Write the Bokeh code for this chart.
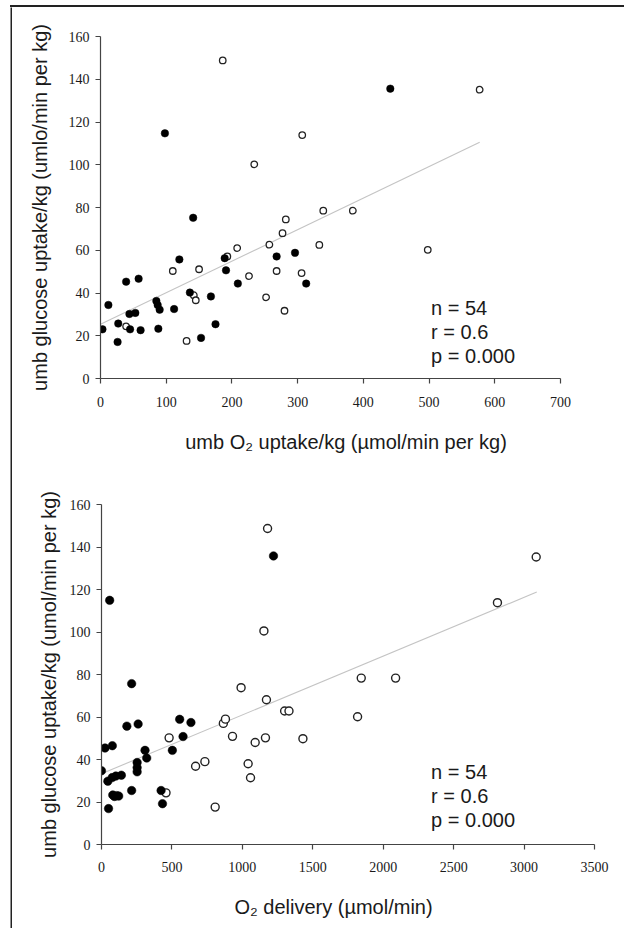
from bokeh.plotting import figure
from bokeh.models import Range1d, SingleIntervalTicker, Label, ColumnDataSource, Div
from bokeh.layouts import column, row
from bokeh.embed import file_html
from bokeh.resources import INLINE

# ---------------- data: top panel (umb O2 uptake vs glucose uptake) ----------------
top_filled_x = [3, 12, 26, 27, 39, 44, 45, 53, 58, 61, 85, 87, 88, 90, 98, 112, 120, 136, 141, 153,
                168, 175, 189, 191, 209, 268, 296, 313, 441]
top_filled_y = [23.0, 34.4, 17.1, 25.7, 45.3, 30.2, 23.0, 30.7, 46.7, 22.6, 36.3, 34.4, 23.3, 32.2,
                114.7, 32.5, 55.7, 40.2, 75.2, 19.0, 38.4, 25.4, 56.3, 50.6, 44.4, 57.1, 58.8, 44.4, 135.6]
top_open_x = [39, 110, 131, 142, 145, 150, 186, 193, 208, 226, 234, 252, 257, 268, 277, 280, 282,
              306, 307, 333, 339, 384, 498, 577]
top_open_y = [24.4, 50.3, 17.6, 39.0, 36.6, 51.1, 148.8, 57.1, 61.0, 47.9, 100.2, 38.0, 62.6, 50.3,
              68.0, 31.7, 74.4, 49.3, 113.9, 62.5, 78.5, 78.5, 60.2, 135.1]
top_fit_x = [0, 577]
top_fit_y = [25.4, 110.5]
top_x_ticks = [0, 100, 200, 300, 400, 500, 600, 700]
top_y_ticks = [0, 20, 40, 60, 80, 100, 120, 140, 160]
top_stats = ["n = 54", "r = 0.6", "p = 0.000"]
top_xlabel = "umb O\u2082 uptake/kg (\u00b5mol/min per kg)"
top_ylabel = "umb glucose uptake/kg (umlo/min per kg)"

# ---------------- data: bottom panel (O2 delivery vs glucose uptake) ----------------
bot_filled_x = [0, 25, 77, 58, 45, 76, 102, 141, 80, 92, 108, 122, 50, 180, 214, 260, 214, 253, 253, 253,
                309, 321, 423, 433, 503, 555, 579, 635, 1221]
bot_filled_y = [34.7, 45.4, 46.5, 114.9, 29.8, 31.5, 32.2, 32.6, 23.3, 22.6, 23.0, 22.8, 16.9, 55.7,
                75.7, 56.7, 25.4, 38.6, 36.2, 34.2, 44.3, 40.7, 25.4, 19.2, 44.3, 58.9, 50.8, 57.4, 135.8]
bot_open_x = [458, 480, 668, 734, 807, 865, 880, 930, 991, 1041, 1058, 1091, 1153, 1164, 1171, 1179,
              1300, 1331, 1430, 1818, 1844, 2088, 2811, 3086]
bot_open_y = [24.3, 50.2, 36.8, 39.0, 17.6, 57.0, 59.0, 50.9, 73.8, 38.0, 31.4, 48.0, 100.5, 50.2,
              68.1, 148.7, 62.8, 62.8, 49.8, 60.1, 78.3, 78.3, 113.8, 135.3]
bot_fit_x = [0, 3090]
bot_fit_y = [33.3, 118.8]
bot_x_ticks = [0, 500, 1000, 1500, 2000, 2500, 3000, 3500]
bot_y_ticks = [0, 20, 40, 60, 80, 100, 120, 140, 160]
bot_stats = ["n = 54", "r = 0.6", "p = 0.000"]
bot_xlabel = "O\u2082 delivery (\u00b5mol/min)"
bot_ylabel = "umb glucose uptake/kg (umol/min per kg)"

SANS = "Liberation Sans"
SERIF = "Liberation Serif"
INK = "#1a1a1a"
PANEL_W = 612


def blank(width, height, borders, fill):
    left, right, top, bottom = borders
    f = figure(width=width, height=height, x_range=Range1d(0, width - left - right),
               y_range=Range1d(0, height - top - bottom),
               output_backend="svg", toolbar_location=None, title_location=None,
               x_axis_location=None, y_axis_location=None, min_border=0,
               min_border_left=left, min_border_right=right,
               min_border_top=top, min_border_bottom=bottom)
    f.frame_align = False
    f.background_fill_color = fill
    f.border_fill_color = "white"
    f.outline_line_color = None
    f.grid.visible = False
    return f


def label_strip(height, text, cx, cy):
    f = blank(PANEL_W, height, (0, 0, 0, 0), "white")
    f.add_layout(Label(x=cx, y=cy, text=text, text_font=SANS, text_font_size="20px",
                       text_color=INK, text_align="center", text_baseline="middle"))
    return f


def make_panel(height, borders, x_ticks, y_ticks, fx, fy, ox, oy, fit_x, fit_y,
               ylabel, y_standoff, x_standoff, stats, stats_pos, stats_step,
               filled_size, open_size, open_width):
    left, right, top, bottom = borders
    p = figure(width=PANEL_W, height=height,
               x_range=Range1d(x_ticks[0], x_ticks[-1]),
               y_range=Range1d(y_ticks[0], y_ticks[-1]),
               output_backend="svg", toolbar_location=None, title_location=None,
               min_border_left=left, min_border_right=right,
               min_border_top=top, min_border_bottom=bottom)
    p.frame_align = False
    p.outline_line_color = None
    p.xgrid.visible = False
    p.ygrid.visible = False
    p.background_fill_color = "white"
    p.border_fill_color = "white"

    p.xaxis.ticker = SingleIntervalTicker(interval=x_ticks[1] - x_ticks[0], num_minor_ticks=0)
    p.yaxis.ticker = SingleIntervalTicker(interval=y_ticks[1] - y_ticks[0], num_minor_ticks=0)
    for ax in (p.xaxis[0], p.yaxis[0]):
        ax.axis_line_color = "#444444"
        ax.axis_line_width = 1.2
        ax.major_tick_line_color = "#444444"
        ax.major_tick_line_width = 1.2
        ax.major_tick_out = 5
        ax.major_tick_in = 0
        ax.minor_tick_line_color = None
        ax.major_label_text_font = SERIF
        ax.major_label_text_font_size = "14px"
        ax.major_label_text_color = INK
    p.yaxis.major_label_standoff = 6
    p.xaxis.major_label_standoff = x_standoff

    p.yaxis.axis_label = ylabel
    p.yaxis.axis_label_text_font = SANS
    p.yaxis.axis_label_text_font_size = "20px"
    p.yaxis.axis_label_text_font_style = "normal"
    p.yaxis.axis_label_text_color = INK
    p.yaxis.axis_label_standoff = y_standoff

    src_fit = ColumnDataSource(dict(x=fit_x, y=fit_y))
    p.line("x", "y", source=src_fit, line_color="#c4c4c4", line_width=1.1)

    src_open = ColumnDataSource(dict(x=ox, y=oy))
    p.scatter("x", "y", source=src_open, marker="circle", size=open_size,
              fill_color="white", line_color="#222222", line_width=open_width)
    src_filled = ColumnDataSource(dict(x=fx, y=fy))
    p.scatter("x", "y", source=src_filled, marker="circle", size=filled_size,
              fill_color="black", line_color="black", line_width=0.5)

    for i, s in enumerate(stats):
        p.add_layout(Label(x=stats_pos[0], y=stats_pos[1] - i * stats_step, text=s,
                           text_font=SANS, text_font_size="20px", text_color=INK,
                           text_align="left", text_baseline="middle"))
    return p


p1 = make_panel(409, (88, 64, 29, 38), top_x_ticks, top_y_ticks,
                top_filled_x, top_filled_y, top_open_x, top_open_y, top_fit_x, top_fit_y,
                top_ylabel, 15, 13, top_stats, (503, 33.0), 11.3,
                7.5, 6.5, 1.3)
s1 = label_strip(52, top_xlabel, 333.5, 27)
p2 = make_panel(412, (89, 30, 36, 36), bot_x_ticks, bot_y_ticks,
                bot_filled_x, bot_filled_y, bot_open_x, bot_open_y, bot_fit_x, bot_fit_y,
                bot_ylabel, 7, 12, bot_stats, (2340, 34.1), 11.3,
                8.5, 8, 1.4)
s2 = label_strip(48, bot_xlabel, 321, 21.3)

top_bar = Div(text="", width=614, height=2, margin=(5, 0, 0, 10),
              styles={"background-color": "#222222"})
left_bar = blank(12, 921, (10, 0, 0, 0), "#222222")

layout = column(top_bar, row(left_bar, column(p1, s1, p2, s2, spacing=0), spacing=0), spacing=0)

open("out.html", "w").write(file_html(layout, INLINE))
